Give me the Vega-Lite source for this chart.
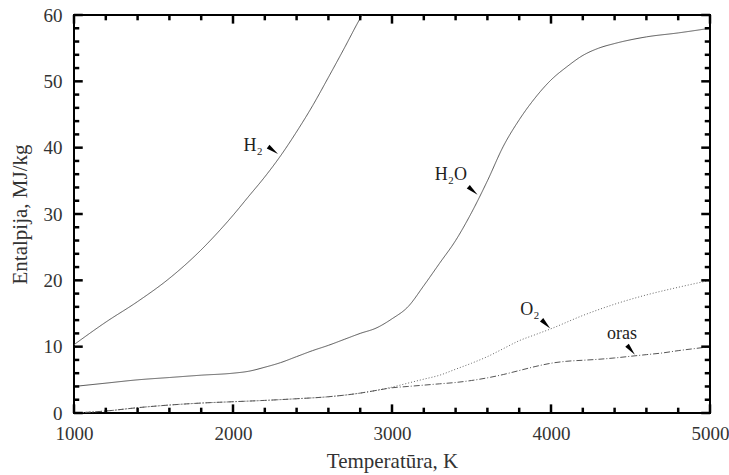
{
  "$schema": "https://vega.github.io/schema/vega-lite/v6.json",
  "width": 636,
  "height": 398,
  "autosize": "none",
  "padding": {"left": 74, "top": 15, "right": 19, "bottom": 62},
  "background": "white",
  "config": {
    "view": {"stroke": "black", "strokeWidth": 2},
    "font": "Liberation Serif",
    "axis": {
      "labelFont": "Liberation Serif",
      "titleFont": "Liberation Serif",
      "labelFontSize": 19,
      "titleFontSize": 21,
      "titleFontWeight": "normal",
      "labelColor": "#333",
      "titleColor": "#333",
      "domain": false,
      "ticks": false,
      "grid": false,
      "labelFlush": false,
      "labelOverlap": false
    }
  },
  "datasets": {
    "curves": [
      {"s": "H2", "T": 1000, "E": 10.3}, {"s": "H2", "T": 1200, "E": 13.7}, {"s": "H2", "T": 1400, "E": 16.8},
      {"s": "H2", "T": 1600, "E": 20.3}, {"s": "H2", "T": 1800, "E": 24.6}, {"s": "H2", "T": 1900, "E": 27.1},
      {"s": "H2", "T": 2000, "E": 29.8}, {"s": "H2", "T": 2100, "E": 32.7}, {"s": "H2", "T": 2200, "E": 35.6},
      {"s": "H2", "T": 2300, "E": 38.8}, {"s": "H2", "T": 2400, "E": 42.4}, {"s": "H2", "T": 2500, "E": 46.3},
      {"s": "H2", "T": 2600, "E": 50.6}, {"s": "H2", "T": 2700, "E": 55.0}, {"s": "H2", "T": 2800, "E": 59.5},
      {"s": "H2", "T": 2812, "E": 60.0},
      {"s": "H2O", "T": 1000, "E": 4.0}, {"s": "H2O", "T": 1200, "E": 4.5}, {"s": "H2O", "T": 1400, "E": 5.0},
      {"s": "H2O", "T": 1600, "E": 5.35}, {"s": "H2O", "T": 1800, "E": 5.7}, {"s": "H2O", "T": 2000, "E": 6.0},
      {"s": "H2O", "T": 2100, "E": 6.3}, {"s": "H2O", "T": 2200, "E": 6.9}, {"s": "H2O", "T": 2300, "E": 7.6},
      {"s": "H2O", "T": 2400, "E": 8.5}, {"s": "H2O", "T": 2500, "E": 9.4}, {"s": "H2O", "T": 2600, "E": 10.2},
      {"s": "H2O", "T": 2700, "E": 11.1}, {"s": "H2O", "T": 2800, "E": 12.0}, {"s": "H2O", "T": 2900, "E": 12.8},
      {"s": "H2O", "T": 3000, "E": 14.2}, {"s": "H2O", "T": 3100, "E": 16.0}, {"s": "H2O", "T": 3200, "E": 19.2},
      {"s": "H2O", "T": 3300, "E": 22.6}, {"s": "H2O", "T": 3400, "E": 26.0}, {"s": "H2O", "T": 3500, "E": 30.2},
      {"s": "H2O", "T": 3600, "E": 35.0}, {"s": "H2O", "T": 3700, "E": 40.2}, {"s": "H2O", "T": 3800, "E": 44.2},
      {"s": "H2O", "T": 3900, "E": 47.5}, {"s": "H2O", "T": 4000, "E": 50.2}, {"s": "H2O", "T": 4100, "E": 52.2},
      {"s": "H2O", "T": 4200, "E": 53.9}, {"s": "H2O", "T": 4300, "E": 55.0}, {"s": "H2O", "T": 4400, "E": 55.7},
      {"s": "H2O", "T": 4600, "E": 56.7}, {"s": "H2O", "T": 4800, "E": 57.3}, {"s": "H2O", "T": 5000, "E": 58.0},
      {"s": "O2", "T": 1000, "E": 0.0}, {"s": "O2", "T": 1200, "E": 0.3}, {"s": "O2", "T": 1400, "E": 0.8},
      {"s": "O2", "T": 1600, "E": 1.2}, {"s": "O2", "T": 1800, "E": 1.5}, {"s": "O2", "T": 2000, "E": 1.7},
      {"s": "O2", "T": 2200, "E": 1.9}, {"s": "O2", "T": 2400, "E": 2.15}, {"s": "O2", "T": 2600, "E": 2.45},
      {"s": "O2", "T": 2800, "E": 3.0}, {"s": "O2", "T": 2900, "E": 3.4}, {"s": "O2", "T": 3000, "E": 3.9},
      {"s": "O2", "T": 3100, "E": 4.5}, {"s": "O2", "T": 3200, "E": 5.1}, {"s": "O2", "T": 3300, "E": 5.7},
      {"s": "O2", "T": 3400, "E": 6.6}, {"s": "O2", "T": 3500, "E": 7.5}, {"s": "O2", "T": 3600, "E": 8.5},
      {"s": "O2", "T": 3700, "E": 9.7}, {"s": "O2", "T": 3800, "E": 10.9}, {"s": "O2", "T": 3900, "E": 11.8},
      {"s": "O2", "T": 4000, "E": 12.7}, {"s": "O2", "T": 4200, "E": 14.7}, {"s": "O2", "T": 4400, "E": 16.4},
      {"s": "O2", "T": 4600, "E": 17.8}, {"s": "O2", "T": 4800, "E": 18.95}, {"s": "O2", "T": 5000, "E": 20.0},
      {"s": "oras", "T": 1000, "E": 0.0}, {"s": "oras", "T": 1200, "E": 0.3}, {"s": "oras", "T": 1400, "E": 0.8},
      {"s": "oras", "T": 1600, "E": 1.2}, {"s": "oras", "T": 1800, "E": 1.5}, {"s": "oras", "T": 2000, "E": 1.7},
      {"s": "oras", "T": 2200, "E": 1.9}, {"s": "oras", "T": 2400, "E": 2.15}, {"s": "oras", "T": 2600, "E": 2.45},
      {"s": "oras", "T": 2800, "E": 3.0}, {"s": "oras", "T": 2900, "E": 3.4}, {"s": "oras", "T": 3000, "E": 3.8},
      {"s": "oras", "T": 3100, "E": 4.0}, {"s": "oras", "T": 3200, "E": 4.2}, {"s": "oras", "T": 3300, "E": 4.4},
      {"s": "oras", "T": 3400, "E": 4.6}, {"s": "oras", "T": 3500, "E": 4.9}, {"s": "oras", "T": 3600, "E": 5.3},
      {"s": "oras", "T": 3700, "E": 5.8}, {"s": "oras", "T": 3800, "E": 6.4}, {"s": "oras", "T": 3900, "E": 7.0},
      {"s": "oras", "T": 4000, "E": 7.5}, {"s": "oras", "T": 4100, "E": 7.8}, {"s": "oras", "T": 4200, "E": 7.95},
      {"s": "oras", "T": 4300, "E": 8.1}, {"s": "oras", "T": 4400, "E": 8.3}, {"s": "oras", "T": 4500, "E": 8.55},
      {"s": "oras", "T": 4600, "E": 8.8}, {"s": "oras", "T": 4700, "E": 9.05}, {"s": "oras", "T": 4800, "E": 9.4},
      {"s": "oras", "T": 4900, "E": 9.7}, {"s": "oras", "T": 5000, "E": 10.0}
    ],
    "labels": [
      {"label": "H₂", "T": 2126, "E": 40.2},
      {"label": "H₂O", "T": 3371, "E": 35.9},
      {"label": "O₂", "T": 3868, "E": 15.5},
      {"label": "oras", "T": 4446, "E": 11.9}
    ],
    "arrows": [
      {"label": "H₂", "T": 2252, "E": 39.6},
      {"label": "H₂O", "T": 3509, "E": 33.5},
      {"label": "O₂", "T": 3968, "E": 13.4},
      {"label": "oras", "T": 4503, "E": 9.5}
    ],
    "xmajor": [{"T": 1000}, {"T": 2000}, {"T": 3000}, {"T": 4000}, {"T": 5000}],
    "xminor": [
      {"T": 1200}, {"T": 1400}, {"T": 1600}, {"T": 1800}, {"T": 2200}, {"T": 2400}, {"T": 2600}, {"T": 2800},
      {"T": 3200}, {"T": 3400}, {"T": 3600}, {"T": 3800}, {"T": 4200}, {"T": 4400}, {"T": 4600}, {"T": 4800}
    ],
    "ymajor": [{"E": 0}, {"E": 10}, {"E": 20}, {"E": 30}, {"E": 40}, {"E": 50}, {"E": 60}],
    "yminor": [
      {"E": 2}, {"E": 4}, {"E": 6}, {"E": 8}, {"E": 12}, {"E": 14}, {"E": 16}, {"E": 18},
      {"E": 22}, {"E": 24}, {"E": 26}, {"E": 28}, {"E": 32}, {"E": 34}, {"E": 36}, {"E": 38},
      {"E": 42}, {"E": 44}, {"E": 46}, {"E": 48}, {"E": 52}, {"E": 54}, {"E": 56}, {"E": 58}
    ]
  },
  "layer": [
    {
      "data": {"name": "curves"},
      "mark": {"type": "line", "interpolate": "monotone", "strokeWidth": 1, "clip": true},
      "encoding": {
        "x": {
          "field": "T", "type": "quantitative",
          "scale": {"domain": [1000, 5000], "nice": false, "zero": false},
          "axis": {
            "orient": "bottom",
            "title": "Temperatūra, K",
            "values": [1000, 2000, 3000, 4000, 5000],
            "format": "d",
            "labelPadding": 11,
            "titlePadding": 7
          }
        },
        "y": {
          "field": "E", "type": "quantitative",
          "scale": {"domain": [0, 60], "nice": false},
          "axis": {
            "orient": "left",
            "title": "Entalpija, MJ/kg",
            "values": [0, 10, 20, 30, 40, 50, 60],
            "format": "d",
            "labelPadding": 12,
            "titlePadding": 13
          }
        },
        "detail": {"field": "s"},
        "color": {"field": "s", "type": "nominal", "scale": {"domain": ["H2", "H2O", "O2", "oras"], "range": ["#555", "#555", "#666", "#555"]}, "legend": null},
        "strokeDash": {"field": "s", "type": "nominal", "scale": {"domain": ["H2", "H2O", "O2", "oras"], "range": [[1, 0], [1, 0], [1, 2], [6, 2, 1, 2]]}, "legend": null}
      }
    },
    {
      "data": {"name": "xmajor"},
      "mark": {"type": "rule", "strokeWidth": 2.5, "color": "black"},
      "encoding": {
        "x": {"field": "T", "type": "quantitative", "axis": null},
        "y": {"datum": 0, "type": "quantitative", "axis": null},
        "y2": {"datum": 1.3}
      }
    },
    {
      "data": {"name": "xmajor"},
      "mark": {"type": "rule", "strokeWidth": 2.5, "color": "black"},
      "encoding": {
        "x": {"field": "T", "type": "quantitative", "axis": null},
        "y": {"datum": 60, "type": "quantitative", "axis": null},
        "y2": {"datum": 58.7}
      }
    },
    {
      "data": {"name": "xminor"},
      "mark": {"type": "rule", "strokeWidth": 2.5, "color": "black"},
      "encoding": {
        "x": {"field": "T", "type": "quantitative", "axis": null},
        "y": {"datum": 0, "type": "quantitative", "axis": null},
        "y2": {"datum": 0.8}
      }
    },
    {
      "data": {"name": "xminor"},
      "mark": {"type": "rule", "strokeWidth": 2.5, "color": "black"},
      "encoding": {
        "x": {"field": "T", "type": "quantitative", "axis": null},
        "y": {"datum": 60, "type": "quantitative", "axis": null},
        "y2": {"datum": 59.2}
      }
    },
    {
      "data": {"name": "ymajor"},
      "mark": {"type": "rule", "strokeWidth": 2.5, "color": "black"},
      "encoding": {
        "y": {"field": "E", "type": "quantitative", "axis": null},
        "x": {"datum": 1000, "type": "quantitative", "axis": null},
        "x2": {"datum": 1055}
      }
    },
    {
      "data": {"name": "ymajor"},
      "mark": {"type": "rule", "strokeWidth": 2.5, "color": "black"},
      "encoding": {
        "y": {"field": "E", "type": "quantitative", "axis": null},
        "x": {"datum": 5000, "type": "quantitative", "axis": null},
        "x2": {"datum": 4945}
      }
    },
    {
      "data": {"name": "yminor"},
      "mark": {"type": "rule", "strokeWidth": 2.5, "color": "black"},
      "encoding": {
        "y": {"field": "E", "type": "quantitative", "axis": null},
        "x": {"datum": 1000, "type": "quantitative", "axis": null},
        "x2": {"datum": 1033}
      }
    },
    {
      "data": {"name": "yminor"},
      "mark": {"type": "rule", "strokeWidth": 2.5, "color": "black"},
      "encoding": {
        "y": {"field": "E", "type": "quantitative", "axis": null},
        "x": {"datum": 5000, "type": "quantitative", "axis": null},
        "x2": {"datum": 4967}
      }
    },
    {
      "data": {"name": "labels"},
      "mark": {"type": "text", "font": "Liberation Serif", "fontSize": 18, "color": "#222", "align": "center", "baseline": "middle"},
      "encoding": {
        "x": {"field": "T", "type": "quantitative", "axis": null},
        "y": {"field": "E", "type": "quantitative", "axis": null},
        "text": {"field": "label"}
      }
    },
    {
      "data": {"name": "arrows"},
      "mark": {"type": "point", "filled": true, "color": "black", "opacity": 1, "size": 150, "shape": "M-1,-0.38L1,0L-1,0.38Z"},
      "encoding": {
        "x": {"field": "T", "type": "quantitative", "axis": null},
        "y": {"field": "E", "type": "quantitative", "axis": null},
        "angle": {"field": "label", "type": "nominal", "scale": {"domain": ["H₂", "H₂O", "O₂", "oras"], "range": [36, 50, 40, 72]}, "legend": null}
      }
    }
  ],
  "resolve": {"axis": {"x": "independent", "y": "independent"}}
}
